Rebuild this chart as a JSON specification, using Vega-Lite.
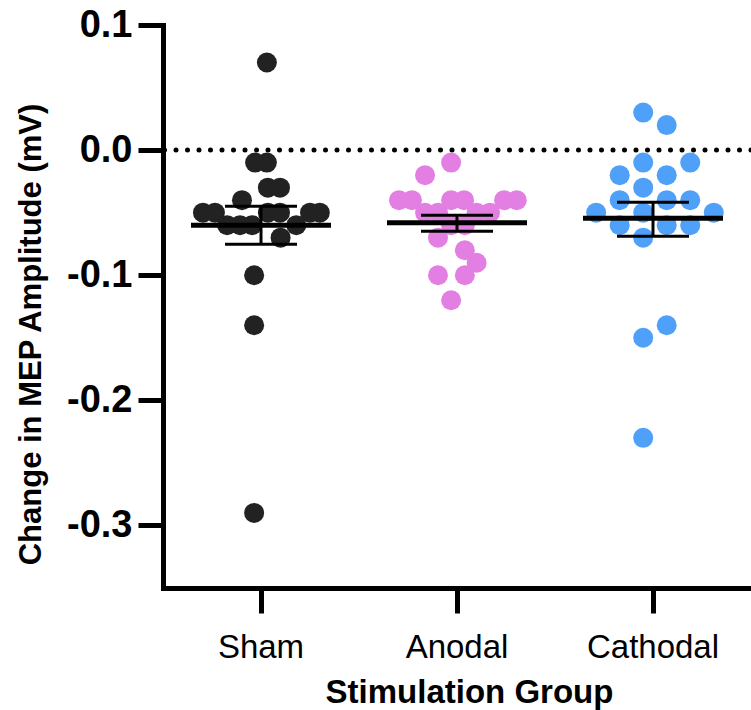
{
  "$schema": "https://vega.github.io/schema/vega-lite/v6.json",
  "width": 588,
  "height": 563,
  "autosize": {"type": "none"},
  "padding": {"left": 163, "top": 25, "right": 0, "bottom": 122},
  "background": "white",
  "config": {
    "view": {"stroke": null},
    "font": "Liberation Sans",
    "axis": {"domainColor": "black", "tickColor": "black", "labelColor": "black", "titleColor": "black", "grid": false, "labelFont": "Liberation Sans", "titleFont": "Liberation Sans", "domainCap": "square"},
    "axisY": {"domainWidth": 5, "tickWidth": 5, "tickSize": 25, "labelFontSize": 38, "labelFontWeight": "bold", "labelPadding": 6, "titleFontSize": 31, "titleFontWeight": "bold", "titlePadding": 19, "titleY": 309},
    "axisX": {"domainWidth": 5, "tickWidth": 5, "tickSize": 25, "labelFontSize": 33, "labelFontWeight": "normal", "labelPadding": 18, "labelAngle": 0, "titleFontSize": 33, "titleFontWeight": "bold", "titlePadding": 12, "titleX": 306}
  },
  "datasets": {
    "points": [
      {"group": "Sham", "value": 0.07, "jitter": 0.03},
      {"group": "Sham", "value": -0.01, "jitter": -0.03},
      {"group": "Sham", "value": -0.01, "jitter": 0.03},
      {"group": "Sham", "value": -0.03, "jitter": 0.035},
      {"group": "Sham", "value": -0.03, "jitter": 0.097},
      {"group": "Sham", "value": -0.04, "jitter": -0.097},
      {"group": "Sham", "value": -0.05, "jitter": -0.296},
      {"group": "Sham", "value": -0.05, "jitter": -0.235},
      {"group": "Sham", "value": -0.05, "jitter": 0.035},
      {"group": "Sham", "value": -0.05, "jitter": 0.097},
      {"group": "Sham", "value": -0.05, "jitter": 0.25},
      {"group": "Sham", "value": -0.05, "jitter": 0.30},
      {"group": "Sham", "value": -0.06, "jitter": -0.173},
      {"group": "Sham", "value": -0.06, "jitter": -0.107},
      {"group": "Sham", "value": -0.06, "jitter": -0.046},
      {"group": "Sham", "value": -0.06, "jitter": 0.18},
      {"group": "Sham", "value": -0.07, "jitter": 0.10},
      {"group": "Sham", "value": -0.10, "jitter": -0.035},
      {"group": "Sham", "value": -0.14, "jitter": -0.035},
      {"group": "Sham", "value": -0.29, "jitter": -0.035},
      {"group": "Anodal", "value": -0.01, "jitter": -0.03},
      {"group": "Anodal", "value": -0.02, "jitter": -0.163},
      {"group": "Anodal", "value": -0.04, "jitter": -0.296},
      {"group": "Anodal", "value": -0.04, "jitter": -0.23},
      {"group": "Anodal", "value": -0.04, "jitter": -0.03},
      {"group": "Anodal", "value": -0.04, "jitter": 0.036},
      {"group": "Anodal", "value": -0.04, "jitter": 0.24},
      {"group": "Anodal", "value": -0.04, "jitter": 0.305},
      {"group": "Anodal", "value": -0.05, "jitter": -0.163},
      {"group": "Anodal", "value": -0.05, "jitter": -0.097},
      {"group": "Anodal", "value": -0.05, "jitter": 0.10},
      {"group": "Anodal", "value": -0.05, "jitter": 0.168},
      {"group": "Anodal", "value": -0.06, "jitter": -0.03},
      {"group": "Anodal", "value": -0.06, "jitter": 0.04},
      {"group": "Anodal", "value": -0.07, "jitter": -0.097},
      {"group": "Anodal", "value": -0.08, "jitter": 0.04},
      {"group": "Anodal", "value": -0.09, "jitter": 0.10},
      {"group": "Anodal", "value": -0.10, "jitter": -0.097},
      {"group": "Anodal", "value": -0.10, "jitter": 0.04},
      {"group": "Anodal", "value": -0.12, "jitter": -0.03},
      {"group": "Cathodal", "value": 0.03, "jitter": -0.05},
      {"group": "Cathodal", "value": 0.02, "jitter": 0.07},
      {"group": "Cathodal", "value": -0.01, "jitter": -0.05},
      {"group": "Cathodal", "value": -0.01, "jitter": 0.19},
      {"group": "Cathodal", "value": -0.02, "jitter": -0.17},
      {"group": "Cathodal", "value": -0.02, "jitter": 0.07},
      {"group": "Cathodal", "value": -0.03, "jitter": -0.05},
      {"group": "Cathodal", "value": -0.04, "jitter": -0.17},
      {"group": "Cathodal", "value": -0.04, "jitter": 0.07},
      {"group": "Cathodal", "value": -0.04, "jitter": 0.19},
      {"group": "Cathodal", "value": -0.05, "jitter": -0.29},
      {"group": "Cathodal", "value": -0.05, "jitter": -0.05},
      {"group": "Cathodal", "value": -0.05, "jitter": 0.31},
      {"group": "Cathodal", "value": -0.06, "jitter": -0.17},
      {"group": "Cathodal", "value": -0.06, "jitter": 0.07},
      {"group": "Cathodal", "value": -0.06, "jitter": 0.19},
      {"group": "Cathodal", "value": -0.07, "jitter": -0.05},
      {"group": "Cathodal", "value": -0.14, "jitter": 0.07},
      {"group": "Cathodal", "value": -0.15, "jitter": -0.05},
      {"group": "Cathodal", "value": -0.23, "jitter": -0.05}
    ],
    "summary": [
      {"group": "Sham", "mean": -0.060, "lower": -0.0752, "upper": -0.0448},
      {"group": "Anodal", "mean": -0.058, "lower": -0.0648, "upper": -0.052},
      {"group": "Cathodal", "mean": -0.0544, "lower": -0.0688, "upper": -0.0416}
    ]
  },
  "layer": [
    {
      "data": {"values": [{}]},
      "mark": {"type": "rule", "strokeDash": [0, 11.5], "strokeCap": "round", "strokeWidth": 5, "color": "black"},
      "encoding": {
        "y": {"datum": 0, "type": "quantitative", "scale": {"domain": [-0.35, 0.1], "nice": false, "zero": false}, "title": "Change in MEP Amplitude (mV)"}
      }
    },
    {
      "data": {"name": "points"},
      "mark": {"type": "circle", "size": 400, "opacity": 1},
      "encoding": {
        "x": {"field": "group", "type": "nominal", "sort": ["Sham", "Anodal", "Cathodal"], "scale": {"paddingInner": 0, "paddingOuter": 0}, "title": "Stimulation Group"},
        "xOffset": {"field": "jitter", "type": "quantitative", "scale": {"domain": [-0.5, 0.5], "range": [0, 196]}},
        "y": {"field": "value", "type": "quantitative", "scale": {"domain": [-0.35, 0.1], "nice": false, "zero": false}, "axis": {"values": [-0.3, -0.2, -0.1, 0, 0.1], "labelExpr": "replace(format(datum.value, '.1f'), '\u2212', '-')"}, "title": "Change in MEP Amplitude (mV)"},
        "color": {"field": "group", "type": "nominal", "scale": {"domain": ["Sham", "Anodal", "Cathodal"], "range": ["#222222", "#E37FE3", "#4FA0F8"]}, "legend": null}
      }
    },
    {
      "data": {"name": "summary"},
      "mark": {"type": "rule", "strokeWidth": 3, "color": "black"},
      "encoding": {
        "x": {"field": "group", "type": "nominal", "sort": ["Sham", "Anodal", "Cathodal"], "title": "Stimulation Group"},
        "y": {"field": "lower", "type": "quantitative", "title": "Change in MEP Amplitude (mV)"},
        "y2": {"field": "upper"}
      }
    },
    {
      "data": {"name": "summary"},
      "mark": {"type": "tick", "size": 72, "thickness": 3, "color": "black", "opacity": 1},
      "encoding": {
        "x": {"field": "group", "type": "nominal", "sort": ["Sham", "Anodal", "Cathodal"], "title": "Stimulation Group"},
        "y": {"field": "lower", "type": "quantitative", "title": "Change in MEP Amplitude (mV)"}
      }
    },
    {
      "data": {"name": "summary"},
      "mark": {"type": "tick", "size": 72, "thickness": 3, "color": "black", "opacity": 1},
      "encoding": {
        "x": {"field": "group", "type": "nominal", "sort": ["Sham", "Anodal", "Cathodal"], "title": "Stimulation Group"},
        "y": {"field": "upper", "type": "quantitative", "title": "Change in MEP Amplitude (mV)"}
      }
    },
    {
      "data": {"name": "summary"},
      "mark": {"type": "tick", "size": 140, "thickness": 5, "color": "black", "opacity": 1},
      "encoding": {
        "x": {"field": "group", "type": "nominal", "sort": ["Sham", "Anodal", "Cathodal"], "title": "Stimulation Group"},
        "y": {"field": "mean", "type": "quantitative", "title": "Change in MEP Amplitude (mV)"}
      }
    }
  ]
}
